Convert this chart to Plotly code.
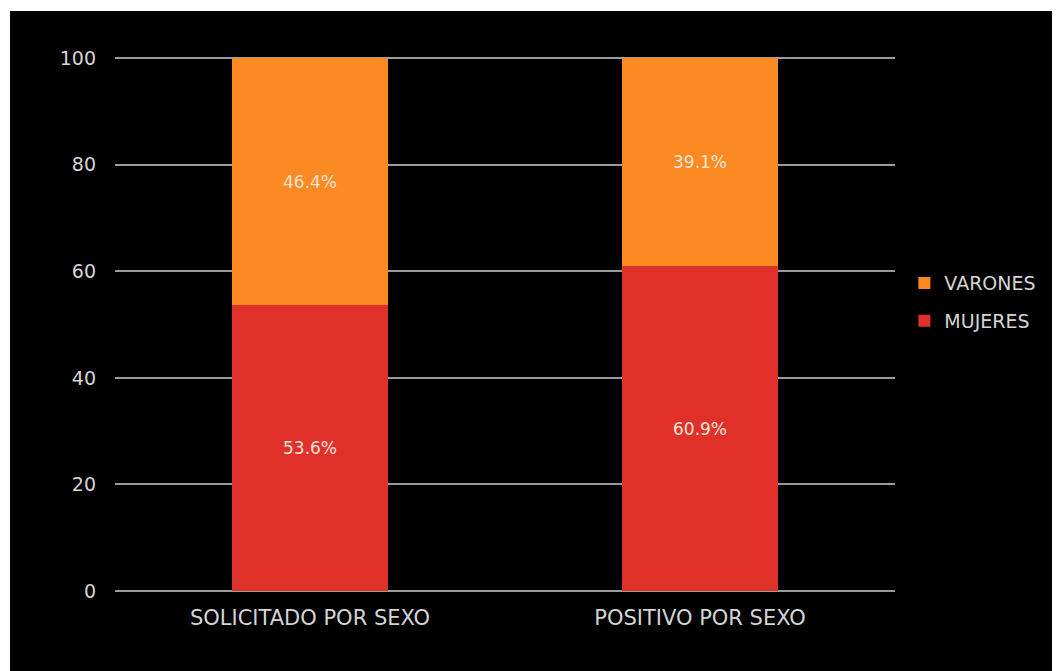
import plotly.graph_objects as go

categories = ["SOLICITADO POR SEXO", "POSITIVO POR SEXO"]
mujeres = [53.6, 60.9]
varones = [46.4, 39.1]
mujeres_labels = ["53.6%", "60.9%"]
varones_labels = ["46.4%", "39.1%"]
tick_vals = [0, 20, 40, 60, 80, 100]

W, H = 1060, 671
ml, mr, mt, mb = 107, 173, 48, 88
pw, ph = W - ml - mr, H - mt - mb

font_family = "'DejaVu Sans', sans-serif"

fig = go.Figure()
fig.add_trace(go.Bar(
    name="MUJERES", x=categories, y=mujeres, text=mujeres_labels,
    textposition="inside", insidetextanchor="middle",
    textfont=dict(color="#fbe3d6", size=17, family=font_family),
    marker=dict(color="#e0302a", line=dict(width=0)),
    width=0.4, hoverinfo="skip", legendgroup="m", legendrank=2,
))
fig.add_trace(go.Bar(
    name="VARONES", x=categories, y=varones, text=varones_labels,
    textposition="inside", insidetextanchor="middle",
    textfont=dict(color="#fbe3d6", size=17, family=font_family),
    marker=dict(color="#fb8a22", line=dict(width=0)),
    width=0.4, hoverinfo="skip", legendgroup="v", legendrank=1,
))

fig.update_layout(
    width=W, height=H,
    barmode="stack",
    paper_bgcolor="black", plot_bgcolor="black",
    margin=dict(l=ml, r=mr, t=mt, b=mb, pad=0),
    font=dict(family=font_family, color="#d4d4d4", size=18),
    showlegend=True,
    legend=dict(x=1.012, y=0.54, xanchor="left", yanchor="middle",
                traceorder="grouped", tracegroupgap=10,
                font=dict(size=19, color="#d4d4d4"),
                bgcolor="rgba(0,0,0,0)", itemwidth=30),
    xaxis=dict(showgrid=False, showline=False, zeroline=False, ticks="",
               tickfont=dict(size=21, color="#d4d4d4"), range=[-0.5, 1.5],
               ticklabelstandoff=12),
    yaxis=dict(range=[0, 100.4], tickvals=tick_vals, showgrid=True,
               gridcolor="#9a9a9a", gridwidth=2, zeroline=True,
               zerolinecolor="#9a9a9a", zerolinewidth=2, showline=False,
               ticks="", ticklabelstandoff=18,
               tickfont=dict(size=19, color="#d4d4d4")),
    shapes=[
        dict(type="rect", xref="paper", yref="paper",
             x0=-ml / pw - 0.01, x1=(W - ml) / pw + 0.01,
             y0=1 + (mt - 3) / ph, y1=1 + mt / ph + 0.01,
             fillcolor="white", line=dict(width=0), layer="above"),
        dict(type="rect", xref="paper", yref="paper",
             x0=-ml / pw - 0.01, x1=-(ml - 2) / pw,
             y0=-mb / ph - 0.01, y1=1 + mt / ph + 0.01,
             fillcolor="white", line=dict(width=0), layer="above"),
    ],
)

fig.write_html("out.html")
